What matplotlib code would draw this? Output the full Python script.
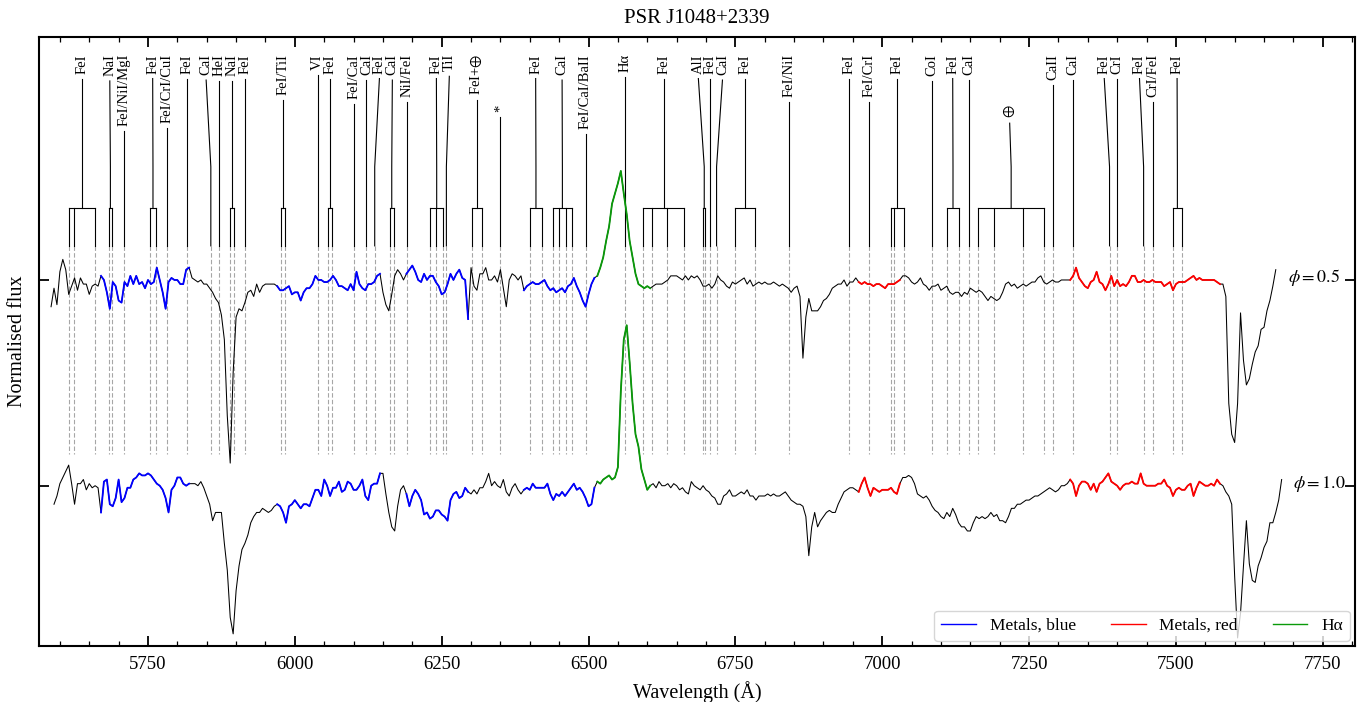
import numpy as np
import matplotlib
matplotlib.use('Agg')
import matplotlib.pyplot as plt
from matplotlib.lines import Line2D
from matplotlib.ticker import MultipleLocator

plt.rcParams['font.family'] = ['Liberation Serif', 'DejaVu Serif']
plt.rcParams['mathtext.fontset'] = 'stix'

# spectra, 5 A sampling
step = 5.0
start_05 = 5585.0
flux_05 = [
    0.87, 0.96, 0.88, 1.04, 1.10, 1.05, 0.93, 0.97, 1.01, 0.95,
    1.01, 0.98, 0.98, 0.93, 0.97, 0.98, 0.97, 1.02, 1.00, 0.94,
    0.86, 0.99, 0.97, 0.90, 0.89, 0.99, 0.97, 1.02, 0.98, 1.02,
    0.98, 0.99, 0.96, 1.00, 0.98, 0.99, 1.06, 1.00, 0.94, 0.86,
    0.99, 1.01, 1.00, 1.00, 0.98, 0.98, 1.05, 1.06, 1.01, 1.00,
    0.99, 1.00, 0.98, 0.98, 0.96, 0.94, 0.91, 0.89, 0.83, 0.71,
    0.34, 0.11, 0.55, 0.82, 0.86, 0.85, 0.89, 0.94, 0.95, 0.92,
    0.98, 0.94, 0.97, 0.98, 0.98, 0.98, 0.98, 0.97, 0.95, 0.95,
    0.96, 0.97, 0.93, 0.94, 0.94, 0.90, 0.94, 0.96, 0.96, 0.98,
    1.02, 1.00, 1.00, 0.99, 0.99, 1.00, 1.02, 1.00, 0.97, 0.97,
    0.96, 0.95, 0.98, 0.95, 1.04, 0.98, 0.96, 0.95, 0.98,
    # 6130
    0.98, 0.99, 1.02, 1.03, 0.94, 0.88, 0.85, 0.93, 1.02, 1.05,
    1.03, 1.00, 1.03, 1.05, 1.07, 1.04, 1.00, 0.99, 1.03, 1.00,
    1.02, 1.02, 0.99, 0.97, 0.93, 0.94, 0.98, 1.03, 1.00, 1.03,
    1.05, 1.01, 1.00, 0.81, 1.06, 0.97, 0.95, 1.03, 1.03, 1.06,
    1.00, 1.00, 1.02, 0.99, 1.05, 0.96, 0.87, 1.00, 1.03, 1.02,
    1.00, 1.02, 0.95, 0.97, 0.98, 0.99, 0.98, 0.98, 0.99, 1.00,
    0.97, 0.95, 0.96, 0.94, 0.95, 0.96, 0.94, 0.97, 0.98, 1.01,
    0.97, 0.94, 0.90, 0.87, 0.93, 0.98, 1.01, 1.02, 1.06, 1.11,
    1.19, 1.26, 1.37, 1.42, 1.47, 1.53, 1.42, 1.32, 1.19, 1.11,
    1.03, 0.98, 0.97, 0.96, 0.97, 0.96, 0.97, 0.98, 0.98, 0.98,
    0.99, 1.00, 1.02, 1.02, 1.02, 1.01, 1.00, 1.02, 1.00,
    # 6675
    1.02, 1.01, 1.02, 1.00, 0.97, 0.97, 0.98, 0.96, 0.98, 1.02,
    1.00, 0.99, 0.97, 0.96, 0.99, 0.98, 0.99, 1.00, 1.01, 0.98,
    1.00, 0.97, 0.98, 0.99, 0.98, 0.99, 0.98, 0.98, 0.99, 0.98,
    0.97, 0.98, 0.97, 0.96, 0.94, 0.96, 0.97, 0.92, 0.62, 0.82,
    0.91, 0.85, 0.85, 0.85, 0.87, 0.90, 0.91, 0.93, 0.96, 0.97,
    0.98, 0.98, 1.00, 0.97, 0.99, 0.99, 1.01, 0.99, 0.98, 0.99,
    0.98, 0.98, 0.97, 0.98, 0.98, 0.97, 0.96, 0.98, 0.98, 0.98,
    0.99, 1.00, 1.02, 1.02, 1.01, 0.99, 0.98, 0.99, 1.01, 0.98,
    0.97, 0.95, 0.97, 0.97, 0.98, 0.95, 0.96, 0.97, 0.94, 0.93,
    0.94, 0.94, 0.92, 0.94, 0.93, 0.96, 0.95, 0.94, 0.95, 0.94,
    0.92, 0.90, 0.92, 0.91, 0.90, 0.91, 0.94, 0.98, 0.99,
    # 7220
    0.97, 0.98, 0.96, 0.97, 0.98, 0.97, 0.98, 0.99, 0.99, 1.01,
    1.02, 0.99, 0.98, 0.99, 1.00, 0.99, 0.99, 1.00, 1.00, 1.00,
    1.00, 1.02, 1.06, 1.01, 0.99, 0.97, 0.96, 0.99, 1.00, 1.04,
    0.99, 0.98, 0.95, 0.98, 1.02, 0.97, 1.00, 0.97, 0.98, 0.97,
    0.99, 1.02, 1.02, 0.99, 0.99, 1.00, 0.99, 0.99, 1.00, 0.99,
    0.99, 0.99, 0.97, 0.98, 0.99, 0.95, 0.98, 0.99, 0.99, 0.99,
    1.00, 1.01, 1.02, 1.00, 1.01, 1.00, 1.00, 1.00, 1.00, 1.00,
    0.99, 0.98, 0.98, 0.92, 0.40, 0.25, 0.21, 0.40, 0.84, 0.61,
    0.49, 0.52, 0.59, 0.65, 0.68, 0.76, 0.77, 0.85, 0.90, 0.97,
    1.05,
]

start_10 = 5590.0
flux_10 = [
    0.91, 0.95, 1.01, 1.04, 1.07, 1.10, 1.01, 0.91, 1.01, 1.01,
    1.03, 0.98, 1.01, 0.99, 1.00, 0.99, 0.87, 1.02, 1.03, 0.91,
    0.90, 0.94, 1.03, 0.92, 0.94, 0.99, 0.99, 1.03, 1.04, 1.06,
    1.05, 1.05, 1.06, 1.05, 1.03, 1.01, 1.00, 0.98, 0.94, 0.87,
    0.98, 1.00, 1.04, 1.04, 1.01, 1.00, 1.01, 1.01, 1.01, 1.00,
    1.02, 0.99, 0.95, 0.91, 0.83, 0.87, 0.87, 0.87, 0.72, 0.59,
    0.36, 0.28, 0.49, 0.61, 0.69, 0.72, 0.76, 0.82, 0.85, 0.87,
    0.87, 0.89, 0.88, 0.87, 0.88, 0.90, 0.91, 0.90, 0.87, 0.82,
    0.90, 0.91, 0.93, 0.91, 0.89, 0.91, 0.91, 0.90, 0.94, 0.98,
    0.98, 0.95, 1.03, 1.00, 0.95, 0.99, 0.99, 1.02, 0.97, 0.98,
    1.02, 1.01, 0.98, 0.98, 1.00, 1.03, 0.95, 0.93,
    # 6130
    1.00, 1.01, 1.01, 1.06, 1.06, 0.96, 0.87, 0.80, 0.78, 0.90,
    0.98, 1.00, 0.96, 0.90, 0.95, 0.98, 0.96, 0.93, 0.86, 0.87,
    0.84, 0.85, 0.88, 0.88, 0.86, 0.85, 0.83, 0.93, 0.96, 0.97,
    0.94, 0.95, 0.99, 0.97, 0.96, 0.98, 0.96, 0.99, 0.99, 1.02,
    1.06, 1.00, 1.02, 1.00, 0.99, 1.03, 0.97, 0.95, 0.99, 1.01,
    0.98, 0.96, 0.98, 0.99, 0.98, 1.01, 0.99, 0.99, 0.99, 0.99,
    1.01, 0.96, 0.93, 0.96, 0.95, 0.97, 0.95, 0.97, 0.99, 1.01,
    0.98, 0.99, 0.97, 0.94, 0.90, 0.91, 0.99, 1.02, 1.01, 1.03,
    1.04, 1.05, 1.03, 1.04, 1.09, 1.46, 1.71, 1.78, 1.60, 1.40,
    1.25, 1.19, 1.08, 1.03, 0.98, 1.00, 1.01, 0.99, 1.02, 1.00,
    1.00, 1.01, 0.99, 1.01, 1.00, 0.98, 0.99, 0.97, 0.96,
    # 6675
    1.02, 1.00, 0.99, 0.98, 1.00, 0.98, 0.97, 0.95, 0.94, 0.91,
    0.91, 0.95, 0.96, 0.98, 0.95, 0.95, 0.96, 0.97, 0.96, 0.98,
    0.95, 0.95, 0.93, 0.95, 0.95, 0.95, 0.96, 0.95, 0.96, 0.95,
    0.95, 0.96, 0.97, 0.95, 0.93, 0.92, 0.91, 0.91, 0.90, 0.85,
    0.66, 0.80, 0.87, 0.80, 0.83, 0.85, 0.87, 0.88, 0.87, 0.87,
    0.91, 0.94, 0.97, 0.98, 0.99, 0.99, 0.98, 0.97, 1.01, 1.04,
    0.99, 0.95, 0.99, 0.98, 0.97, 0.98, 0.98, 0.98, 0.99, 0.97,
    0.96, 1.01, 1.04, 1.04, 1.05, 1.04, 1.01, 0.96, 0.95, 0.94,
    0.95, 0.93, 0.90, 0.88, 0.87, 0.85, 0.84, 0.87, 0.85, 0.89,
    0.86, 0.82, 0.80, 0.80, 0.78, 0.78, 0.82, 0.85, 0.84, 0.85,
    0.84, 0.85, 0.87, 0.85, 0.86, 0.83, 0.83, 0.82, 0.85,
    # 7220
    0.89, 0.89, 0.91, 0.91, 0.92, 0.93, 0.93, 0.94, 0.95, 0.95,
    0.96, 0.97, 0.98, 0.99, 0.98, 0.97, 0.98, 1.00, 1.00, 1.01,
    1.03, 1.01, 0.95, 1.00, 1.02, 1.02, 1.01, 0.98, 1.01, 0.97,
    1.01, 1.02, 1.04, 1.06, 1.02, 1.01, 1.00, 0.98, 1.00, 1.01,
    1.01, 1.02, 1.01, 1.01, 1.06, 1.01, 1.00, 1.00, 1.00, 1.00,
    1.01, 1.01, 1.03, 1.00, 0.99, 0.95, 0.98, 0.99, 0.98, 0.98,
    1.00, 1.01, 0.95, 0.99, 1.02, 1.01, 1.00, 1.00, 1.01, 1.00,
    1.03, 1.01, 1.00, 0.97, 0.95, 0.91, 0.56, 0.26, 0.38, 0.61,
    0.83, 0.62, 0.54, 0.53, 0.61, 0.65, 0.70, 0.73, 0.82, 0.82,
    0.87, 0.93, 1.03,
]

phases = ['0.5', '1.0']
offsets = [1.0, 0.0]

blue_ranges = [(5670, 5820), (5970, 6146), (6186, 6298), (6388, 6511)]
red_ranges = [(6960, 7031), (7320, 7578)]
green_ranges = [(6511, 6608)]

line_labels = ['FeI', 'NaI', 'FeI/NiI/MgI', 'FeI', 'FeI/CrI/CuI', 'FeI', 'CaI',
               'HeI', 'NaI', 'FeI', 'FeI/TiI', 'VI', 'FeI', 'FeI/CaI', 'CaI',
               'FeI', 'CaI', 'NiI/FeI', 'FeI', 'TiI', 'FeI+$\\oplus$', '*',
               'FeI', 'CaI', 'FeI/CaI/BaII', 'Hα', 'FeI', 'AlI', 'FeI', 'CaI',
               'FeI', 'FeI/NiI', 'FeI', 'FeI/CrI', 'FeI', 'CoI', 'FeI', 'CaI',
               '$\\oplus$', 'CaII', 'CaI', 'FeI', 'CrI', 'FeI', 'CrI/FeI', 'FeI']
label_x = [5638, 5685, 5710, 5758, 5782, 5816, 5849, 5871, 5893, 5915, 5980,
           6039, 6060, 6101, 6122, 6144, 6166, 6191, 6241, 6263, 6310, 6350,
           6410, 6455, 6495, 6562, 6628, 6687, 6707, 6728, 6767, 6842, 6944,
           6978, 7026, 7085, 7120, 7147, 7217, 7290, 7325, 7378, 7399, 7438,
           7461, 7502]
line_waves = [[5616, 5624, 5660], [5684, 5688], [5710], [5754, 5763], [5782],
              [5816], [5857], [5871], [5890, 5896], [5915], [5976, 5984],
              [6039], [6056, 6064], [6101], [6122], [6136], [6162, 6168],
              [6191], [6230, 6241, 6253], [6258], [6302, 6318], [6350],
              [6400, 6421], [6439, 6449, 6462, 6472], [6495], [6562],
              [6593, 6608, 6633, 6663], [6695, 6699], [6707], [6718],
              [6750, 6784], [6842], [6944], [6978], [7015, 7020, 7037],
              [7085], [7111, 7130], [7147], [7163, 7191, 7240, 7276], [7290],
              [7325], [7387], [7399], [7445], [7461], [7495, 7510]]

fig = plt.figure(figsize=(13.7, 7.02), dpi=100)
ax = fig.add_axes([0.0287, 0.0798, 0.9604, 0.8675])
ax.set_xlim(5565, 7805)
ax.set_ylim(0.221, 3.181)

# spectra
for flux, start, ph, off in zip([flux_05, flux_10], [start_05, start_10], phases, offsets):
    f = np.array(flux) + off
    wl = start + step * np.arange(len(f))
    ax.plot(wl, f, color='k', lw=0.75, zorder=3)
    for ranges, col in [(blue_ranges, 'blue'), (red_ranges, 'red'), (green_ranges, '#0a9a0a')]:
        for a, b in ranges:
            m = (wl >= a) & (wl <= b)
            ax.plot(wl[m], f[m], color=col, lw=1.3, zorder=4)
    ax.text(wl[-1] + 20, off + 1.01, r'$\phi=%s$' % ph, fontsize=13,
            ha='left', va='center')

# line identifications
trans = ax.get_xaxis_transform()
y_top, y_low = 0.972, 0.889
y_kink, y_bar, y_leg, y_dash = 0.787, 0.720, 0.657, 0.316

texts = []
for lab, lx in zip(line_labels, label_x):
    yt = y_low if lab in ('*', '$\\oplus$') else y_top
    texts.append(ax.text(lx, yt, lab, transform=trans, rotation=90,
                         ha='center', va='top', fontsize=10.5))

fig.canvas.draw()
r = fig.canvas.get_renderer()
inv = ax.transAxes.inverted()
for t, lx, lines in zip(texts, label_x, line_waves):
    bb = t.get_window_extent(r)
    y0 = inv.transform((0, bb.y0 - 5))[1]
    kw = dict(transform=trans, color='k', lw=0.8, zorder=2)
    if len(lines) == 1:
        ax.plot([lx, lines[0], lines[0]], [y0, y_kink, y_leg], **kw)
    else:
        c = 0.5 * (min(lines) + max(lines))
        ax.plot([lx, c, c], [y0, y_kink, y_bar], **kw)
        ax.plot([min(lines), max(lines)], [y_bar, y_bar], **kw)
        for w in lines:
            ax.plot([w, w], [y_bar, y_leg], **kw)
    for w in lines:
        ax.plot([w, w], [y_leg, y_dash], transform=trans, color='0.65',
                lw=0.8, ls=(0, (4, 2)), zorder=1)

# axes styling
ax.set_xticks(np.arange(5750, 7751, 250))
ax.xaxis.set_minor_locator(MultipleLocator(50))
ax.set_yticks([1, 2])
ax.set_yticklabels([])
ax.tick_params(which='both', direction='in', top=True, right=True)
ax.tick_params(which='major', length=7, width=1.3, labelsize=13.5, pad=7)
ax.tick_params(which='minor', length=3.5, width=0.9)
for s in ax.spines.values():
    s.set_linewidth(1.5)

ax.set_xlabel('Wavelength (Å)', fontsize=14.5, labelpad=6)
ax.set_ylabel('Normalised flux', fontsize=14.5, labelpad=2)
ax.set_title('PSR J1048+2339', fontsize=15, pad=10)

handles = [Line2D([], [], color='blue', lw=1.0, label='Metals, blue'),
           Line2D([], [], color='red', lw=1.0, label='Metals, red'),
           Line2D([], [], color='#0a9a0a', lw=1.0, label='Hα')]
ax.legend(handles=handles, loc='lower right', ncol=3, fontsize=12.5,
          borderaxespad=0.3)

fig.savefig('out.png', dpi=100)
